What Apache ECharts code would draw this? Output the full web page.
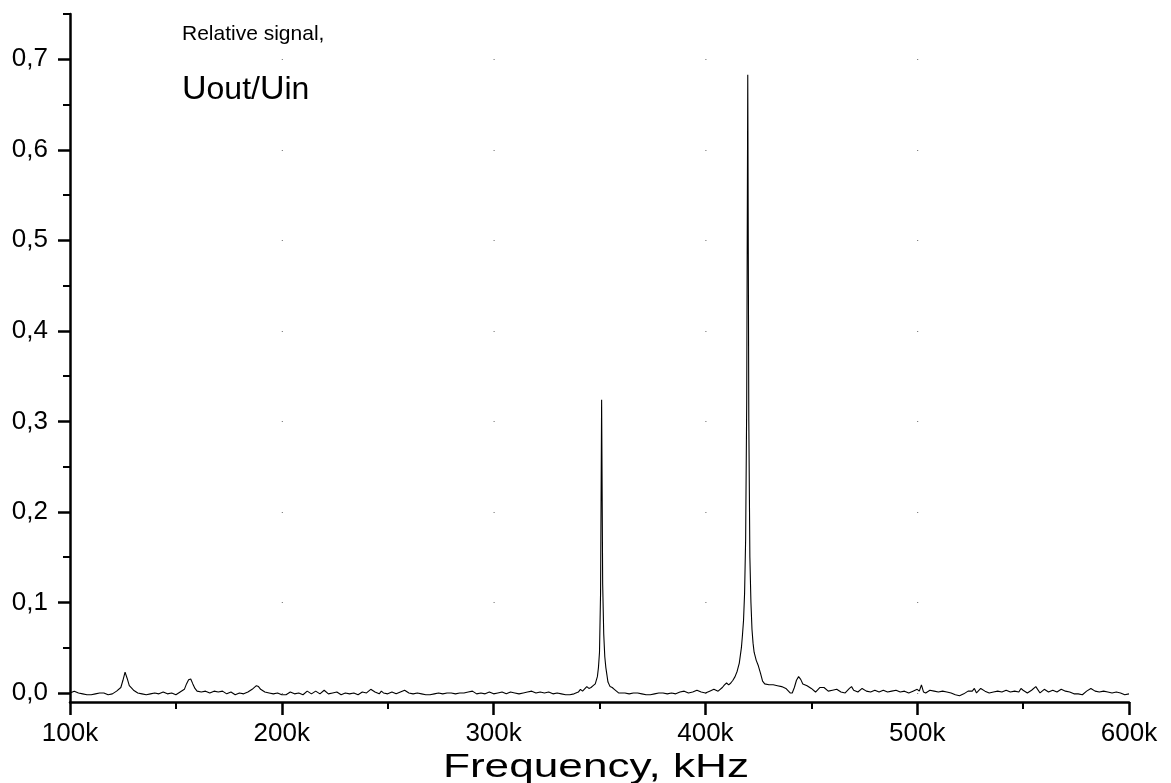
<!DOCTYPE html>
<html>
<head>
<meta charset="utf-8">
<script src="https://cdn.jsdelivr.net/npm/echarts@6/dist/echarts.min.js"></script>
<style>
html,body{margin:0;padding:0;background:#fff;}
#chart{width:1171px;height:783px;}
</style>
</head>
<body>
<div id="chart"></div>
<script>
// Frequency in kHz
const freq = [
100,102,104,106,108,110,112,114,116,118,120,122,124,125,126,127,128,130,132,134,136,138,140,142,144,146,148,150,
152,154,155,156,157,158,159,160,162,164,166,168,170,172,174,176,178,180,182,184,186,188,189,190,192,194,196,198,
200,202,204,206,208,210,212,214,216,218,220,222,224,226,228,230,232,234,236,238,240,242,244,246,247,248,250,252,
254,256,258,260,262,264,266,268,270,272,274,276,278,280,282,284,286,288,290,292,294,296,298,300,302,304,306,308,
310,312,314,316,318,320,322,324,326,328,330,332,334,336,338,340,341,342,344,345,346,347,348,349,349.5,350,350.5,
351,351.5,352,352.5,353,353.5,354,355,356,357,358,359,360,362,364,366,368,370,372,374,376,378,380,382,384,386,
388,390,392,394,396,398,400,402,404,406,408,409,410,411,412,413,414,415,416,417,417.5,418,418.5,419,419.5,420,
420.5,421,421.5,422,422.5,423,424,425,426,427,428,430,432,434,436,438,440,441,442,443,444,445,446,448,450,452,
454,456,458,460,462,464,466,468,469,470,472,474,476,478,480,482,484,486,488,490,492,494,496,498,500,501,502,503,
504,506,508,510,512,514,516,518,520,522,524,526,527,528,530,532,534,536,538,540,542,544,546,548,549,550,552,554,
556,558,560,562,564,566,568,570,572,574,576,578,580,582,584,586,588,590,592,594,596,598,600
];
// Relative signal Uout/Uin
const signal = [
0.000,0.002,0.000,-0.001,-0.002,-0.002,-0.001,0.000,0.000,-0.002,-0.001,0.002,0.006,0.014,0.023,0.016,0.008,0.003,0.000,-0.001,-0.002,-0.001,0.000,-0.001,0.001,-0.001,0.000,-0.002,
0.001,0.004,0.010,0.0145,0.0155,0.010,0.005,0.002,0.001,0.002,0.000,0.002,0.001,0.002,-0.001,0.001,-0.002,0.000,-0.001,0.001,0.004,0.008,0.007,0.004,0.001,0.000,-0.001,0.000,
-0.002,-0.002,0.001,-0.001,0.000,-0.002,0.002,-0.001,0.002,-0.001,0.003,-0.001,0.000,0.001,-0.002,0.000,-0.001,0.000,-0.002,0.001,0.000,0.004,0.001,-0.001,0.002,0.000,-0.001,0.001,
-0.001,0.001,0.003,0.000,-0.001,0.000,-0.001,-0.002,-0.002,-0.001,0.000,-0.001,0.000,0.000,-0.001,0.000,0.000,0.001,0.002,-0.001,0.000,-0.001,0.001,-0.001,0.000,0.001,-0.001,0.001,
0.000,-0.001,0.000,0.001,0.002,0.000,0.001,0.000,0.001,-0.001,0.000,-0.001,-0.002,-0.002,-0.001,0.001,0.004,0.002,0.007,0.005,0.006,0.008,0.010,0.018,0.028,0.045,0.110,
0.324,0.120,0.065,0.040,0.028,0.020,0.012,0.007,0.006,0.004,0.002,0.000,0.000,0.000,-0.001,0.000,0.000,-0.001,-0.002,-0.002,-0.001,0.000,0.000,-0.001,0.000,-0.001,
0.001,0.002,0.000,0.001,0.003,0.001,0.000,0.002,0.004,0.002,0.006,0.009,0.011,0.009,0.011,0.014,0.018,0.024,0.033,0.050,0.064,0.080,0.110,0.170,0.320,0.683,
0.300,0.150,0.100,0.070,0.055,0.045,0.036,0.030,0.022,0.013,0.010,0.009,0.009,0.008,0.007,0.005,0.000,0.000,0.006,0.014,0.018,0.015,0.010,0.008,0.005,0.001,
0.006,0.006,0.002,0.003,0.004,0.001,0.000,0.005,0.007,0.003,0.001,0.005,0.002,0.001,0.003,0.001,0.003,0.001,0.002,0.003,0.001,0.002,0.000,0.002,0.004,0.002,0.009,0.001,
0.000,0.003,0.002,0.001,0.002,0.001,0.000,-0.002,-0.003,-0.001,0.002,0.002,0.005,0.000,0.005,0.002,0.000,0.001,0.002,0.001,0.003,0.001,0.002,0.001,0.005,0.003,0.000,0.003,
0.007,0.000,0.004,0.001,0.003,0.001,0.004,0.002,0.001,-0.001,-0.001,-0.002,0.002,0.005,0.002,0.001,0.002,0.001,0.000,0.001,0.000,-0.002,-0.001
];
const xTicks = [100,200,300,400,500,600];
const yMajor = [0,0.1,0.2,0.3,0.4,0.5,0.6,0.7];
const yMinor = [0.05,0.15,0.25,0.35,0.45,0.55,0.65,0.75];
const xTitle = 'Frequency, kHz';

const FONT = '"Liberation Sans", Arial, Helvetica, sans-serif';
const data = freq.map((f, i) => [f, signal[i]]);

const chart = echarts.init(document.getElementById('chart'), null, {renderer: 'canvas'});
chart.setOption({
  animation: false,
  backgroundColor: '#fff',
  grid: {left: 70, right: 42, top: 14, bottom: 81, containLabel: false, outerBoundsMode: 'none'},
  xAxis: {
    type: 'value', min: 100, max: 600, interval: 100,
    axisLine: {show: true, onZero: false, lineStyle: {color: '#000', width: 2.5}},
    axisTick: {show: true, inside: false, length: 13, lineStyle: {color: '#000', width: 2.5}},
    minorTick: {show: true, splitNumber: 2, length: 7, lineStyle: {color: '#000', width: 2}},
    axisLabel: {fontFamily: FONT, fontSize: 26, color: '#000', margin: 19,
      formatter: v => v + 'k'},
    splitLine: {show: false}
  },
  yAxis: [{
    type: 'value', min: -0.01, max: 0.75,
    axisLine: {show: true, onZero: false, lineStyle: {color: '#000', width: 2.5}},
    axisTick: {show: true, inside: false, length: 12, customValues: yMajor, lineStyle: {color: '#000', width: 2.5}},
    axisLabel: {fontFamily: FONT, fontSize: 26, color: '#000', margin: 22, customValues: yMajor,
      formatter: v => v.toFixed(1).replace('.', ',')},
    splitLine: {show: true, lineStyle: {color: '#666', width: 1, type: [1, 210.8]}}
  }, {
    type: 'value', min: -0.01, max: 0.75, position: 'left',
    axisLine: {show: false},
    axisTick: {show: true, inside: false, length: 7, customValues: yMinor, lineStyle: {color: '#000', width: 2}},
    axisLabel: {show: false},
    splitLine: {show: false}
  }],
  graphic: [
    {type: 'text', left: 182, top: 24, style: {text: 'Relative signal,', fontFamily: FONT, fontSize: 21, fill: '#000'}},
    {type: 'text', left: 182, top: 73, style: {
      text: '{u|U}{s|out/}{u|U}{s|in}', fontFamily: FONT, fill: '#000',
      rich: {u: {fontSize: 34, fontFamily: FONT, fill: '#000'}, s: {fontSize: 32, fontFamily: FONT, fill: '#000'}}
    }},
    {type: 'text', x: 596, y: 785, scaleX: 1.3, scaleY: 1,
      style: {x: 0, y: 0, text: xTitle, fontFamily: FONT, fontSize: 34, fill: '#000',
        textAlign: 'center', textVerticalAlign: 'bottom', align: 'center', verticalAlign: 'bottom'}}
  ],
  series: [{
    type: 'line', data: data, yAxisIndex: 0,
    showSymbol: false, symbol: 'none',
    lineStyle: {color: '#000', width: 1.1}
  }]
});
</script>
</body>
</html>
